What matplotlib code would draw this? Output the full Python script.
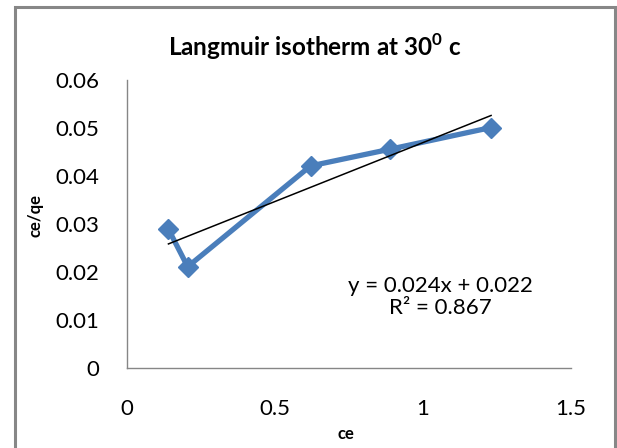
import numpy as np
import matplotlib as mpl
mpl.use('Agg')
import matplotlib.pyplot as plt
from matplotlib.patches import Rectangle

# values
ce = [0.14, 0.205, 0.62, 0.89, 1.23]
ce_qe = [0.0289, 0.0211, 0.0421, 0.0456, 0.0501]
xticks = [0, 0.5, 1, 1.5]
yticks = [0, 0.01, 0.02, 0.03, 0.04, 0.05, 0.06]
ytick_labels = ['0', '0.01', '0.02', '0.03', '0.04', '0.05', '0.06']
xtick_labels = ['0', '0.5', '1', '1.5']

plt.rcParams['font.family'] = ['Lato', 'DejaVu Sans']
plt.rcParams['mathtext.fontset'] = 'custom'
plt.rcParams['mathtext.rm'] = 'Lato'
plt.rcParams['mathtext.bf'] = 'Lato:bold'

fig = plt.figure(figsize=(6.17, 4.48), dpi=100)
# outer chart border (Excel style)
fig.patches.append(Rectangle((15 / 617, -0.05), 600 / 617, 1.05 - 7 / 448,
                             transform=fig.transFigure, fill=False,
                             edgecolor='#878787', linewidth=2.2))

ax = fig.add_axes([127 / 617, 80 / 448, 444 / 617, 288 / 448])
ax.plot(ce, ce_qe, color='#4A7EBB', linewidth=3.8, marker='D',
        markersize=10, zorder=3)

# linear trendline
a, b = np.polyfit(ce, ce_qe, 1)
xs = np.array([min(ce), max(ce)])
ax.plot(xs, a * xs + b, color='black', linewidth=1.1, zorder=4)

ax.set_xlim(0, 1.5)
ax.set_ylim(0, 0.06)
ax.set_xticks(xticks)
ax.set_xticklabels(xtick_labels)
ax.set_yticks(yticks)
ax.set_yticklabels(ytick_labels)
ax.tick_params(length=0, labelsize=16, pad=22)
ax.tick_params(axis='y', pad=20)
for s in ['top', 'right']:
    ax.spines[s].set_visible(False)
for s in ['left', 'bottom']:
    ax.spines[s].set_color('#868686')
    ax.spines[s].set_linewidth(1.0)

ax.text(1.06, 0.0148, 'y = 0.024x + 0.022\nR² = 0.867', ha='center',
        va='center', fontsize=16, linespacing=1.15)

fig.text(315 / 617, 1 - 47 / 448, r'Langmuir isotherm at 30$^{\mathbf{0}}$ c',
         ha='center', va='center', fontsize=17.5, fontweight='bold')
fig.text(35 / 617, 1 - 215 / 448, 'ce/qe', ha='center', va='center',
         rotation=90, fontsize=12, fontweight='bold')
fig.text(346 / 617, 1 - 434 / 448, 'ce', ha='center', va='center',
         fontsize=12, fontweight='bold')

fig.savefig('out.png', dpi=100)
